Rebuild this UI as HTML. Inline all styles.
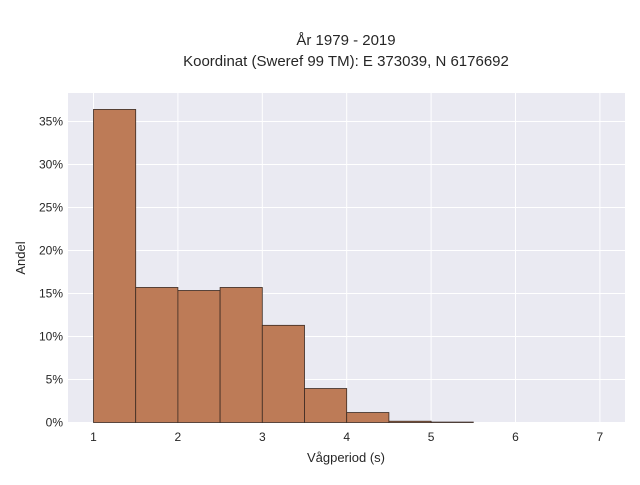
<!DOCTYPE html>
<html><head><meta charset="utf-8"><style>
body{margin:0;background:#fff;font-family:"Liberation Sans",sans-serif}
</style></head><body>
<svg width="640" height="480" xmlns="http://www.w3.org/2000/svg">
<text x="346" y="45" text-anchor="middle" font-size="15" fill="#262626">År 1979 - 2019</text>
<text x="346" y="66" text-anchor="middle" font-size="15" fill="#262626">Koordinat (Sweref 99 TM): E 373039, N 6176692</text>
<rect x="68" y="93" width="557" height="330" fill="#eaeaf2"/>
<g id="grid"></g>
<g id="bars"></g>
<g id="ticks"></g>
<text x="346" y="462" text-anchor="middle" font-size="13" fill="#262626">Vågperiod (s)</text>
<text x="25" y="258" text-anchor="middle" font-size="13" fill="#262626" transform="rotate(-90 25 258)">Andel</text>
</svg>
<script>
const binStarts=[1,1.5,2,2.5,3,3.5,4,4.5,5];
const binWidth=0.5;
const shares=[36.4,15.7,15.35,15.7,11.3,3.95,1.16,0.15,0.05];
const xTicks=[1,2,3,4,5,6,7];
const yTicks=[0,5,10,15,20,25,30,35];
const NS="http://www.w3.org/2000/svg";
const X=v=>93.5+(v-1)*84.4;
const Y=v=>422.5-v*8.6;
const grid=document.getElementById('grid'),bars=document.getElementById('bars'),ticks=document.getElementById('ticks');
function mk(tag,attrs,parent){const e=document.createElementNS(NS,tag);for(const k in attrs)e.setAttribute(k,attrs[k]);parent.appendChild(e);return e;}
xTicks.forEach(t=>{
 const l=mk('line',{x1:X(t),x2:X(t),y1:93,y2:423,stroke:'#fff','stroke-width':1},grid);
 
 
 const tx=mk('text',{x:X(t),y:441,'text-anchor':'middle','font-size':12,fill:'#262626'},ticks);
 tx.textContent=t;
 
 
});
yTicks.forEach(t=>{
 const l=mk('line',{x1:68,x2:625,y1:Y(t),y2:Y(t),stroke:'#fff','stroke-width':1},grid);
 
 
 const tx=mk('text',{x:63,y:Y(t)+4,'text-anchor':'end','font-size':12,fill:'#262626'},ticks);
 tx.textContent=t+'%';
 
 
});
binStarts.forEach((b,i)=>{
 const x0=X(b),x1=X(b+binWidth),y=Y(shares[i]);
 const r=mk('rect',{x:x0,y:y,width:x1-x0,height:Y(0)-y,fill:'#bd7b57',stroke:'#3a2a22','stroke-width':0.8},bars);
 
 
});
</script>
</body></html>
